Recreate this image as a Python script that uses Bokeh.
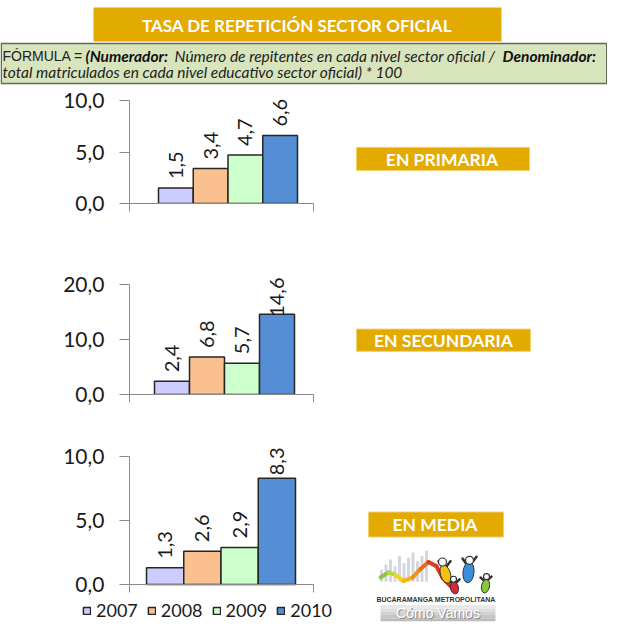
import math
from bokeh.plotting import figure
from bokeh.models import (ColumnDataSource, Range1d, FixedTicker, CustomJSTickFormatter,
                          Legend, LegendItem)
from bokeh.layouts import column, row
from bokeh.core.properties import value, field
from bokeh.embed import file_html
from bokeh.resources import INLINE

# ---------------- data ----------------
years = ["2007", "2008", "2009", "2010"]
primaria = [1.5, 3.4, 4.7, 6.6]
secundaria = [2.4, 6.8, 5.7, 14.6]
media = [1.3, 2.6, 2.9, 8.3]
primaria_ticks = [0, 5, 10]
secundaria_ticks = [0, 10, 20]
media_ticks = [0, 5, 10]
levels = ["EN PRIMARIA", "EN SECUNDARIA", "EN MEDIA"]
title_text = "TASA DE REPETICIÓN SECTOR OFICIAL"
formula_head = "FÓRMULA ="
formula_num = "(Numerador:"
formula_mid = "Número de repitentes en cada nivel sector oficial /"
formula_den = "Denominador:"
formula_line2 = "total matriculados en cada nivel educativo sector oficial) * 100"
logo_top = "BUCARAMANGA METROPOLITANA"
logo_bottom = "Cómo Vamos"

colors = ["#CCCCFF", "#FAC090", "#CCFFCC", "#558ED5"]
FONT = "Lato"
GOLD = "#E3AA00"
W = 607
CW = 338          # chart column width
LW = W - CW       # label column width
AXIS_X = 129      # pixel column of the value axis
FRAME_R = 313     # right end of the category axis


def blank(w, h):
    p = figure(width=w, height=h, x_range=Range1d(0, w), y_range=Range1d(h, 0),
               output_backend="svg", toolbar_location=None, min_border=0,
               x_axis_location=None, y_axis_location=None)
    p.grid.visible = False
    p.outline_line_color = None
    p.background_fill_color = "white"
    p.border_fill_color = "white"
    return p


def fmt(v):
    return f"{v:.1f}".replace(".", ",")


def chart(vals, ticks, h, zero_y, top_y, ppu, bar_l, bar_r, legend=False):
    """zero_y/top_y: local pixel rows of value 0 and the frame top;
    bar_l/bar_r: pixel columns where the group of bars starts/ends."""
    unit = (bar_r - bar_l) / len(vals)
    x_axis0 = -0.5 - (bar_l - AXIS_X) / unit
    x_end = len(vals) - 0.5 + (FRAME_R - bar_r) / unit
    ymax = (zero_y - top_y) / ppu
    if legend:
        frame_l = 55
        frame_b = h - 2
        x_start = -0.5 - (bar_l - frame_l) / unit
        x_frame_end = len(vals) - 0.5 + (CW - bar_r) / unit
        ymin = -(frame_b - zero_y) / ppu
        p = figure(width=CW, height=h, output_backend="svg", toolbar_location=None,
                   x_range=Range1d(x_start, x_frame_end), y_range=Range1d(ymin, ymax),
                   x_axis_location="above",
                   min_border_left=frame_l, min_border_right=0,
                   min_border_top=top_y, min_border_bottom=h - frame_b)
    else:
        p = figure(width=CW, height=h, output_backend="svg", toolbar_location=None,
                   x_range=Range1d(x_axis0, x_end), y_range=Range1d(0, ymax),
                   min_border_left=AXIS_X, min_border_right=CW - FRAME_R,
                   min_border_top=top_y, min_border_bottom=h - zero_y)
    p.outline_line_color = None
    p.grid.visible = False
    p.background_fill_color = "white"
    p.border_fill_color = "white"

    fs = 20
    xs = list(range(len(vals)))
    labels = [fmt(v) for v in vals]
    ly, align, yoff = [], [], []
    for v, s in zip(vals, labels):
        lpx = sum(0.27 * fs if c == "," else 0.58 * fs for c in s)
        if v * ppu + 9 + lpx > ymax * ppu - 1:
            ly.append(ymax); align.append("right"); yoff.append(1)
        else:
            ly.append(v); align.append("left"); yoff.append(-9)
    src = ColumnDataSource(dict(x=xs, top=vals, year=years, color=colors,
                                label=labels, ly=ly, align=align, yoff=yoff))
    r = p.vbar(x="x", top="top", bottom=0, width=1.0, fill_color="color",
               line_color="#262626", line_width=1.5, source=src)
    p.text(x="x", y="ly", text="label", angle=math.pi / 2, text_align=field("align"),
           text_baseline="middle", y_offset="yoff", text_font=value(FONT),
           text_font_size=f"{fs}px", text_color="#1a1a1a", source=src)

    ya = p.yaxis[0]
    ya.ticker = FixedTicker(ticks=ticks)
    ya.bounds = (ticks[0], ticks[-1])
    ya.formatter = CustomJSTickFormatter(code="return tick.toFixed(1).replace('.', ',');")
    ya.major_tick_out = 10
    ya.major_tick_in = 0
    ya.minor_tick_line_color = None
    ya.axis_line_color = "#8a8a8a"
    ya.major_tick_line_color = "#8a8a8a"
    ya.major_label_standoff = 15
    ya.major_label_text_font = FONT
    ya.major_label_text_font_size = "21px"
    ya.major_label_text_color = "#1a1a1a"

    xa = p.xaxis[0]
    xa.ticker = FixedTicker(ticks=[x_axis0, x_end])
    xa.formatter = CustomJSTickFormatter(code="return '';")
    xa.minor_tick_line_color = None
    xa.axis_line_color = "#8a8a8a"
    xa.major_tick_line_color = "#8a8a8a"
    xa.major_label_standoff = 0
    xa.major_label_text_font_size = "0px"
    if legend:
        ya.fixed_location = x_axis0
        xa.fixed_location = 0
        xa.bounds = (x_axis0, x_end)
        xa.major_tick_in = 8
        xa.major_tick_out = 0
        lg = Legend(items=[LegendItem(label=y, renderers=[r], index=i) for i, y in enumerate(years)],
                    orientation="horizontal", location=(82 - frame_l, 0),
                    glyph_width=9, glyph_height=9, label_standoff=5, spacing=9,
                    padding=0, margin=0, label_height=16,
                    border_line_color=None, background_fill_alpha=0,
                    label_text_font=FONT, label_text_font_size="18px",
                    label_text_color="#1a1a1a", label_text_baseline="middle")
        p.add_layout(lg)
    else:
        xa.major_tick_out = 8
        xa.major_tick_in = 0
    return p


def level_box(p, text, l, r, t, b, cx, cy):
    p.quad(left=[l], right=[r], top=[t], bottom=[b], fill_color=GOLD,
           line_color="#F0CF70", line_width=1)
    p.text(x=[cx], y=[cy], text=[text], text_align="center", text_baseline="middle",
           text_font=value(FONT), text_font_style="bold", text_font_size="17.5px",
           text_color="white")


# ---------------- header ----------------
hdr = blank(W, 88)
hdr.quad(left=[93], right=[501], top=[7], bottom=[41], fill_color=GOLD, line_color=None)
hdr.text(x=[296.5], y=[24.5], text=[title_text], text_align="center", text_baseline="middle",
         text_font=value(FONT), text_font_style="bold", text_font_size="17px", text_color="white")
hdr.quad(left=[0.75], right=[606.25], top=[43], bottom=[83], fill_color="#D8E4BC",
         line_color="#5f6b55", line_width=1.5)
hdr.text(x=[2], y=[55.5], text=[formula_head], text_baseline="middle",
         text_font=value("Liberation Sans"), text_font_size="14px", text_color="#222222")
hdr.text(x=[85, 502], y=[55.5, 55.5], text=[formula_num, formula_den], text_baseline="middle",
         text_font=value(FONT), text_font_style="bold italic", text_font_size="15.5px",
         text_color="#111111")
hdr.text(x=[174, 2], y=[55.5, 71.5], text=[formula_mid, formula_line2], text_baseline="middle",
         text_font=value(FONT), text_font_style="italic", text_font_size="15.5px",
         text_color="#222222")

# ---------------- charts ----------------
c1 = chart(primaria, primaria_ticks, 157, zero_y=115, top_y=2, ppu=10.3, bar_l=158, bar_r=297)
c2 = chart(secundaria, secundaria_ticks, 175, zero_y=149, top_y=31, ppu=5.5, bar_l=154, bar_r=294)
c3 = chart(media, media_ticks, 203, zero_y=164, top_y=26, ppu=12.8, bar_l=146, bar_r=295,
           legend=True)

l1 = blank(LW, 157)
level_box(l1, levels[0], 18, 191, 79, 111, 103.5, 95.5)
l2 = blank(LW, 175)
level_box(l2, levels[1], 18, 192, 78, 111, 105, 95)
l3 = blank(LW, 203)
level_box(l3, levels[2], 30, 165, 76, 105, 96.5, 91)

# ---------------- logo (decorative) ----------------
bx = [43 + 4.5 * i for i in range(11)]
bh = [14, 20, 26, 18, 30, 22, 28, 34, 24, 30, 36]
l3.vbar(x=bx, top=[157 - v for v in bh], bottom=157, width=3, fill_color="#cdd3dd",
        line_color=None, fill_alpha=0.9)
wave_x = [42, 50, 57, 65, 74, 82, 90, 98, 104, 112]
wave_y = [152, 146, 149, 156, 152, 142, 134, 139, 152, 162]
wave_c = ["#8dc63f", "#b9d532", "#f2d21b", "#f6b21a", "#f39019", "#ec6a1c", "#e03a1e", "#e03a1e", "#d92a2a"]
for i in range(len(wave_x) - 1):
    l3.line(x=wave_x[i:i + 2], y=wave_y[i:i + 2], line_color=wave_c[i], line_width=4,
            line_cap="round")
arms = [([100, 106, 112], [133, 142, 133]), ([124, 130, 138], [130, 140, 128]),
        ([110, 116, 121], [155, 160, 154]), ([142, 147, 153], [152, 157, 151])]
for ax_, ay_ in arms:
    l3.line(x=ax_, y=ay_, line_color="#333333", line_width=2.5, line_cap="round")
l3.ellipse(x=[107, 130, 116, 147], y=[148, 146, 164, 162], width=[10, 11, 8, 8],
           height=[22, 24, 14, 16], angle=[0.3, -0.1, 0.2, -0.2],
           fill_color=["#f4c20d", "#3a8fd6", "#d8263c", "#8cc63f"], line_color="#333333",
           line_width=1)
l3.circle(x=[104, 131, 115, 148], y=[134, 132, 154, 151], radius=[4, 4, 3, 3],
          fill_color="white", line_color="#333333", line_width=1.2)
l3.text(x=[97.5], y=[178], text=[logo_top], text_align="center", text_baseline="middle",
        text_font=value("Liberation Sans"), text_font_style="bold",
        text_font_size="7px", text_color="#333333")
greys = ["#e9e9e9", "#dedede", "#d2d2d2", "#c6c6c6", "#bcbcbc"]
for i, g in enumerate(greys):
    l3.quad(left=[42], right=[157], top=[184 + 3.8 * i], bottom=[184 + 3.8 * (i + 1)],
            fill_color=g, line_color=None)
l3.text(x=[100.5], y=[194.5], text=[logo_bottom], text_align="center", text_baseline="middle",
        text_font=value("Liberation Sans"), text_font_size="14px", text_color="#8c8c8c")
l3.text(x=[99.5], y=[193.5], text=[logo_bottom], text_align="center", text_baseline="middle",
        text_font=value("Liberation Sans"), text_font_size="14px", text_color="white")

layout = column(hdr, row(c1, l1), row(c2, l2), row(c3, l3), spacing=0)

open("out.html", "w").write(file_html(layout, INLINE))
